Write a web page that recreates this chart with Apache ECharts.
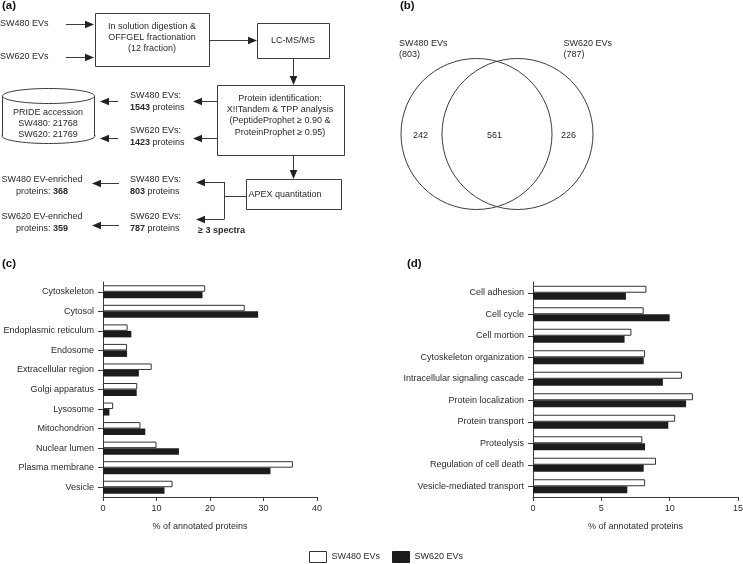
<!DOCTYPE html>
<html><head><meta charset="utf-8">
<script src="https://cdn.jsdelivr.net/npm/echarts@6/dist/echarts.min.js"></script>
<style>html,body{margin:0;padding:0;background:#fff}#c{width:743px;height:564px}</style>
</head><body><div id="c"></div>
<script>
// ---------- data ----------
const seriesNames = ['SW480 EVs', 'SW620 EVs'];

const ccCategories = ['Cytoskeleton', 'Cytosol', 'Endoplasmic reticulum', 'Endosome', 'Extracellular region',
  'Golgi apparatus', 'Lysosome', 'Mitochondrion', 'Nuclear lumen', 'Plasma membrane', 'Vesicle'];
const ccSW480 = [19.1, 26.5, 4.6, 4.5, 9.1, 6.4, 1.9, 7.0, 10.0, 35.5, 13.0];
const ccSW620 = [18.6, 29.0, 5.3, 4.5, 6.7, 6.3, 1.2, 7.9, 14.2, 31.3, 11.5];
const ccAxis = [0, 40, 10]; // min, max, interval

const bpCategories = ['Cell adhesion', 'Cell cycle', 'Cell mortion', 'Cytoskeleton organization',
  'Intracellular signaling cascade', 'Protein localization', 'Protein transport', 'Proteolysis',
  'Regulation of cell death', 'Vesicle-mediated transport'];
const bpSW480 = [8.3, 8.1, 7.2, 8.2, 10.9, 11.7, 10.4, 8.0, 9.0, 8.2];
const bpSW620 = [6.8, 10.0, 6.7, 8.1, 9.5, 11.2, 9.9, 8.2, 8.1, 6.9];
const bpAxis = [0, 15, 5];

const vennSets = ['SW480 EVs', 'SW620 EVs'];
const vennTotals = [803, 787];
const vennUnique = [242, 226];
const vennShared = 561;

const identified = [1543, 1423];
const quantified = [803, 787];
const enriched = [368, 359];
const prideIds = [21768, 21769];
const axisTitle = '% of annotated proteins';

// ---------- style ----------
const FONT = '"Liberation Sans", Arial, Helvetica, sans-serif';
const TXT = '#2a2a2a';
const LINE = '#3c3c3c';
const FS = 9;

function txt(x, y, text, align, extra) {
  return Object.assign({ type: 'text', x: x, y: y, silent: true,
    style: { text: text, fill: TXT, fontSize: FS, fontFamily: FONT, align: align || 'center',
      verticalAlign: 'middle', rich: { b: { fontWeight: 'bold', fontSize: FS, fontFamily: FONT, fill: TXT } } } }, extra || {});
}
function box(x, y, w, h) {
  return { type: 'rect', shape: { x: x + 0.5, y: y + 0.5, width: w, height: h }, style: { fill: '#fff', stroke: LINE, lineWidth: 1 } };
}
function seg(x1, y1, x2, y2) {
  return { type: 'line', shape: { x1: x1, y1: y1, x2: x2, y2: y2 }, style: { stroke: LINE, lineWidth: 1 } };
}
function arrow(x1, y1, x2, y2) {
  const head = 9, hw = 3.8;
  const dx = x2 - x1, dy = y2 - y1, L = Math.hypot(dx, dy), ux = dx / L, uy = dy / L;
  const bx = x2 - ux * head, by = y2 - uy * head;
  return [seg(x1, y1, bx, by),
    { type: 'polygon', shape: { points: [[x2, y2], [bx - uy * hw, by + ux * hw], [bx + uy * hw, by - ux * hw]] }, style: { fill: '#222' } }];
}
function panelLabel(x, y, t) {
  return { type: 'text', x: x, y: y, style: { text: t, fill: '#111', fontSize: 11.5, fontWeight: 'bold', fontFamily: FONT, align: 'left', verticalAlign: 'middle' } };
}

// ---------- flow chart (a) ----------
const g = [];
g.push(panelLabel(2, 6, '(a)'));
g.push(panelLabel(400, 6, '(b)'));
g.push(panelLabel(2, 264, '(c)'));
g.push(panelLabel(407, 264, '(d)'));

g.push(txt(0, 24, seriesNames[0], 'left'));
g.push(txt(0, 57, seriesNames[1], 'left'));
g.push(...arrow(66, 24.5, 94, 24.5));
g.push(...arrow(66, 57.5, 94, 57.5));
g.push(box(95, 13, 114, 53));
g.push(txt(152, 27, 'In solution digestion &'));
g.push(txt(152, 38, 'OFFGEL fractionation'));
g.push(txt(152, 49, '(12 fraction)'));
g.push(...arrow(209, 40.5, 257, 40.5));
g.push(box(257, 23, 72, 35));
g.push(txt(293, 41, 'LC-MS/MS'));
g.push(...arrow(293.5, 58, 293.5, 85));
g.push(box(217, 85, 127, 70));
g.push(txt(280, 99, 'Protein identification:'));
g.push(txt(280, 110, 'X!!Tandem & TPP analysis'));
g.push(txt(280, 121, '(PeptideProphet \u2265 0.90 &'));
g.push(txt(280, 133, 'ProteinProphet \u2265 0.95)'));
g.push(...arrow(217, 101.5, 193, 101.5));
g.push(...arrow(217, 138.5, 193, 138.5));
g.push(txt(130, 96, seriesNames[0] + ':', 'left'));
g.push(txt(130, 108, '{b|' + identified[0] + '} proteins', 'left'));
g.push(txt(130, 131, seriesNames[1] + ':', 'left'));
g.push(txt(130, 143, '{b|' + identified[1] + '} proteins', 'left'));
g.push(...arrow(118, 101.5, 100, 101.5));
g.push(...arrow(118, 138.5, 100, 138.5));
// cylinder
g.push({ type: 'ellipse', shape: { cx: 48.5, cy: 136, rx: 46.5, ry: 7.5 }, style: { fill: '#fff', stroke: LINE, lineWidth: 1 } });
g.push({ type: 'rect', shape: { x: 2, y: 96, width: 93, height: 40 }, style: { fill: '#fff' } });
g.push(seg(2.5, 96, 2.5, 136));
g.push(seg(94.5, 96, 94.5, 136));
g.push({ type: 'ellipse', shape: { cx: 48.5, cy: 96, rx: 46, ry: 7.5 }, style: { fill: '#fff', stroke: LINE, lineWidth: 1 } });
g.push(txt(48, 113, 'PRIDE accession'));
g.push(txt(48, 124, 'SW480: ' + prideIds[0]));
g.push(txt(48, 135, 'SW620: ' + prideIds[1]));
// APEX
g.push(...arrow(293.5, 155, 293.5, 179));
g.push(box(246, 179, 95, 30));
g.push(txt(285, 195, 'APEX quantitation'));
g.push(seg(246, 196.5, 224.5, 196.5));
g.push(seg(224.5, 182, 224.5, 219));
g.push(...arrow(224.5, 182.5, 196, 182.5));
g.push(...arrow(224.5, 219.5, 196, 219.5));
g.push(txt(130, 180, seriesNames[0] + ':', 'left'));
g.push(txt(130, 192, '{b|' + quantified[0] + '} proteins', 'left'));
g.push(txt(130, 217, seriesNames[1] + ':', 'left'));
g.push(txt(130, 229, '{b|' + quantified[1] + '} proteins', 'left'));
g.push(txt(198, 231, '{b|\u2265 3 spectra}', 'left'));
g.push(...arrow(119, 183.5, 92, 183.5));
g.push(...arrow(119, 225.5, 92, 225.5));
g.push(txt(42, 180, 'SW480 EV-enriched'));
g.push(txt(42, 192, 'proteins: {b|' + enriched[0] + '}'));
g.push(txt(42, 217, 'SW620 EV-enriched'));
g.push(txt(42, 229, 'proteins: {b|' + enriched[1] + '}'));

// ---------- Venn (b) ----------
const VENN = { cx: 497, cy: 134, d: 20.5, r: 75.5 };
function vennItem(params, api) {
  const i = params.dataIndex;
  const side = i === 0 ? -1 : 1;
  const cx = VENN.cx + side * VENN.d;
  const children = [
    { type: 'circle', shape: { cx: cx, cy: VENN.cy, r: VENN.r }, style: { fill: 'none', stroke: LINE, lineWidth: 1 } },
    { type: 'text', x: i === 0 ? cx - VENN.r - 2 : cx + 46, y: 49,
      style: { text: vennSets[i] + '\n(' + vennTotals[i] + ')', fill: TXT, fontSize: FS, fontFamily: FONT, lineHeight: 11, align: 'left', verticalAlign: 'middle' } },
    { type: 'text', x: i === 0 ? cx - 56 : cx + 51, y: VENN.cy + 2,
      style: { text: String(vennUnique[i]), fill: TXT, fontSize: FS, fontFamily: FONT, align: 'center', verticalAlign: 'middle' } }
  ];
  if (i === 0) {
    children.push({ type: 'text', x: VENN.cx - 2.5, y: VENN.cy + 2,
      style: { text: String(vennShared), fill: TXT, fontSize: FS, fontFamily: FONT, align: 'center', verticalAlign: 'middle' } });
  }
  return { type: 'group', children: children };
}

// ---------- bar charts (c), (d) ----------
const axisFont = { color: TXT, fontSize: FS, fontFamily: FONT };
function catAxis(idx, cats) {
  return { type: 'category', gridIndex: idx, data: cats, inverse: true,
    axisLine: { show: true, lineStyle: { color: LINE, width: 1 } },
    axisTick: { show: true, length: 5, alignWithLabel: true, lineStyle: { color: LINE } },
    axisLabel: Object.assign({ margin: 9 }, axisFont), splitLine: { show: false } };
}
function valAxis(idx, ax, namePad) {
  return { type: 'value', gridIndex: idx, min: ax[0], max: ax[1], interval: ax[2],
    axisLine: { show: true, lineStyle: { color: LINE, width: 1 } },
    axisTick: { show: true, length: 4, lineStyle: { color: LINE } },
    axisLabel: Object.assign({ margin: 7 }, axisFont), splitLine: { show: false },
    name: axisTitle, nameLocation: 'middle', nameGap: 25,
    nameTextStyle: Object.assign({ padding: namePad }, axisFont) };
}
const whiteStyle = { color: '#ffffff', borderColor: '#333', borderWidth: 1 };
const blackStyle = { color: '#1c1c1c', borderColor: '#1c1c1c', borderWidth: 0 };

const option = {
  backgroundColor: '#fff',
  animation: false,
  textStyle: { fontFamily: FONT },
  grid: [
    { left: 103, top: 282, width: 214, height: 215, containLabel: false, outerBoundsMode: 'none' },
    { left: 533, top: 282, width: 205, height: 215, containLabel: false, outerBoundsMode: 'none' }
  ],
  xAxis: [valAxis(0, ccAxis, [0, 20, 0, 0]), valAxis(1, bpAxis, 0)],
  yAxis: [catAxis(0, ccCategories), catAxis(1, bpCategories)],
  legend: { data: seriesNames, left: 309, top: 551, itemWidth: 17, itemHeight: 11, itemGap: 12,
    icon: 'rect', textStyle: axisFont, padding: 0, selectedMode: false,
    itemStyle: { borderWidth: 1 } },
  series: [
    { name: seriesNames[0], type: 'bar', xAxisIndex: 0, yAxisIndex: 0, data: ccSW480, barWidth: 6.5, barGap: '0%', itemStyle: whiteStyle },
    { name: seriesNames[1], type: 'bar', xAxisIndex: 0, yAxisIndex: 0, data: ccSW620, barWidth: 6.5, barGap: '0%', itemStyle: blackStyle },
    { name: seriesNames[0], type: 'bar', xAxisIndex: 1, yAxisIndex: 1, data: bpSW480, barWidth: 7, barGap: '0%', itemStyle: whiteStyle },
    { name: seriesNames[1], type: 'bar', xAxisIndex: 1, yAxisIndex: 1, data: bpSW620, barWidth: 7, barGap: '0%', itemStyle: blackStyle },
    { type: 'custom', coordinateSystem: 'none', renderItem: vennItem, data: vennSets.map((s, i) => [i, vennTotals[i]]), silent: true }
  ],
  graphic: g
};
const chart = echarts.init(document.getElementById('c'));
chart.setOption(option);
</script></body></html>
